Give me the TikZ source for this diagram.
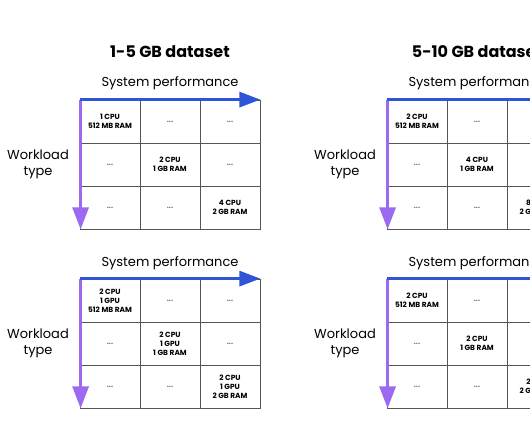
\documentclass[tikz,border=0pt]{standalone}
\usepackage{fontspec}
\setmainfont{Poppins}
\usetikzlibrary{arrows.meta}
\definecolor{perfblue}{HTML}{2F54D6}
\definecolor{loadpurple}{HTML}{9C69F2}
\definecolor{gridgray}{HTML}{555555}
\definecolor{dotgray}{HTML}{6E6E6E}

\begin{document}
\begin{tikzpicture}[x=1pt,y=-1pt]
\tikzset{cell/.style = {shape=rectangle,draw=gridgray,line width=0.8pt,minimum width=60pt,minimum height=43pt,inner sep=0pt,align=center,font=\fontsize{7.4}{9}\selectfont\bfseries}}
\tikzset{dots/.style = {cell,font=\fontsize{7.4}{9}\selectfont\bfseries,text=dotgray}}
\tikzset{title/.style = {font=\fontsize{16}{20}\selectfont\bfseries}}
\tikzset{axis/.style = {align=center,font=\fontsize{13}{16}\selectfont}}
\tikzset{perf/.style = {-{Triangle[length=21pt,width=15pt]},line width=3pt,draw=perfblue}}
\tikzset{load/.style = {-{Triangle[length=22pt,width=16pt]},line width=3pt,draw=loadpurple}}
\useasboundingbox (0,0) rectangle (530,442);
\clip (0,0) rectangle (530,442);
% titles
\node[title] (lt) at (170,52) {1-5 GB dataset};
\node[title] (rt) at (477,52) {5-10 GB dataset};
% axis labels
\node[axis] (tlp) at (170,83) {System performance};
\node[axis] (blp) at (170,263) {System performance};
\node[axis] (trp) at (477,83) {System performance};
\node[axis] (brp) at (477,263) {System performance};
\node[axis] (tlw) at (38,164.5) {Workload\\type};
\node[axis] (blw) at (38,343.5) {Workload\\type};
\node[axis] (trw) at (345,164.5) {Workload\\type};
\node[axis] (brw) at (345,343.5) {Workload\\type};
% top left grid
\node[cell] (tl11) at (110,121.5) {1 CPU\\512 MB RAM};
\node[dots] (tl12) at (170,121.5) {...};
\node[dots] (tl13) at (230,121.5) {...};
\node[dots] (tl21) at (110,164.5) {...};
\node[cell] (tl22) at (170,164.5) {2 CPU\\1 GB RAM};
\node[dots] (tl23) at (230,164.5) {...};
\node[dots] (tl31) at (110,207.5) {...};
\node[dots] (tl32) at (170,207.5) {...};
\node[cell] (tl33) at (230,207.5) {4 CPU\\2 GB RAM};
% bottom left grid
\node[cell] (bl11) at (110,300.5) {2 CPU\\1 GPU\\512 MB RAM};
\node[dots] (bl12) at (170,300.5) {...};
\node[dots] (bl13) at (230,300.5) {...};
\node[dots] (bl21) at (110,343.5) {...};
\node[cell] (bl22) at (170,343.5) {2 CPU\\1 GPU\\1 GB RAM};
\node[dots] (bl23) at (230,343.5) {...};
\node[dots] (bl31) at (110,386.5) {...};
\node[dots] (bl32) at (170,386.5) {...};
\node[cell] (bl33) at (230,386.5) {2 CPU\\1 GPU\\2 GB RAM};
% top right grid
\node[cell] (tr11) at (417,121.5) {2 CPU\\512 MB RAM};
\node[dots] (tr12) at (477,121.5) {...};
\node[dots] (tr13) at (537,121.5) {...};
\node[dots] (tr21) at (417,164.5) {...};
\node[cell] (tr22) at (477,164.5) {4 CPU\\1 GB RAM};
\node[dots] (tr23) at (537,164.5) {...};
\node[dots] (tr31) at (417,207.5) {...};
\node[dots] (tr32) at (477,207.5) {...};
\node[cell] (tr33) at (537,207.5) {8 CPU\\2 GB RAM};
% bottom right grid
\node[cell] (br11) at (417,300.5) {2 CPU\\512 MB RAM};
\node[dots] (br12) at (477,300.5) {...};
\node[dots] (br13) at (537,300.5) {...};
\node[dots] (br21) at (417,343.5) {...};
\node[cell] (br22) at (477,343.5) {2 CPU\\1 GB RAM};
\node[dots] (br23) at (537,343.5) {...};
\node[dots] (br31) at (417,386.5) {...};
\node[dots] (br32) at (477,386.5) {...};
\node[cell] (br33) at (537,386.5) {2 CPU\\2 GB RAM};
% arrows
\draw[load] ([xshift=1pt]tl11.north west) to ([xshift=1pt]tl31.south west);
\draw[perf] (tl11.north west) to (tl13.north east);
\draw[load] ([xshift=1pt]bl11.north west) to ([xshift=1pt]bl31.south west);
\draw[perf] (bl11.north west) to (bl13.north east);
\draw[load] ([xshift=1pt]tr11.north west) to ([xshift=1pt]tr31.south west);
\draw[perf] (tr11.north west) to (tr13.north east);
\draw[load] ([xshift=1pt]br11.north west) to ([xshift=1pt]br31.south west);
\draw[perf] (br11.north west) to (br13.north east);
\end{tikzpicture}
\end{document}
